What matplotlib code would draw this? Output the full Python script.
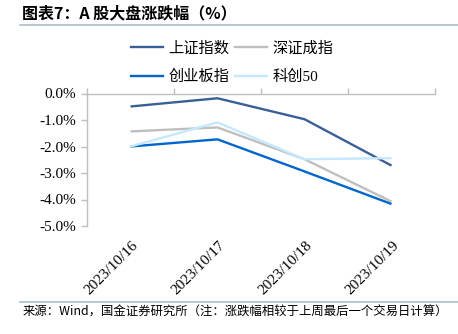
import matplotlib
matplotlib.use("Agg")
import matplotlib.pyplot as plt
from matplotlib.lines import Line2D
import numpy as np

dates = ["2023/10/16", "2023/10/17", "2023/10/18", "2023/10/19"]
series_names = ["上证指数", "深证成指", "创业板指", "科创50"]
sh = [-0.49, -0.18, -0.97, -2.72]
sz = [-1.43, -1.28, -2.48, -4.08]
cyb = [-2.00, -1.73, -2.94, -4.17]
kc50 = [-2.00, -1.09, -2.48, -2.44]
yticks = [0.0, -1.0, -2.0, -3.0, -4.0, -5.0]

colors = ["#3A5F96", "#BFBFBF", "#0066CC", "#C5E8FF"]
W, H = 458, 334
fig = plt.figure(figsize=(W / 100, H / 100), dpi=100)
ax = fig.add_axes([87 / W, 1 - 226 / H, (435 - 87) / W, (226 - 93.5) / H])

x = np.arange(len(dates))
for vals, name, c in zip([sh, sz, cyb, kc50], series_names, colors):
    ax.plot(x, vals, color=c, lw=1.7, label=name, solid_capstyle="butt")

ax.set_xlim(-0.5, len(dates) - 0.5)
ax.set_ylim(-5, 0)
ax.set_yticks(yticks)
ax.set_yticklabels([f"{v:.1f}%" for v in yticks], family="Liberation Serif", fontsize=11)
ax.tick_params(axis="y", direction="out", length=4, color="#BFBFBF", width=1, pad=4)

for s in ["right", "bottom"]:
    ax.spines[s].set_visible(False)
ax.spines["left"].set_color("#BFBFBF")
ax.spines["left"].set_linewidth(1)
ax.spines["top"].set_color("#BFBFBF")
ax.spines["top"].set_linewidth(1)

ax.set_xticks(x)
ax.set_xticklabels([])
ax.tick_params(axis="x", bottom=False, top=False)
ax.set_xticks(np.arange(-0.5, len(dates)), minor=True)
ax.tick_params(axis="x", which="minor", top=True, bottom=False, direction="out",
               length=4, color="#BFBFBF", width=1)

for xi, d in zip(x, dates):
    ax.annotate(d, xy=(xi, -5), xycoords="data", xytext=(1, -9), textcoords="offset points",
                rotation=45, ha="right", va="top", rotation_mode="anchor",
                family="Liberation Serif", fontsize=11, annotation_clip=False)

# row-major legend order
order = [0, 2, 1, 3]
handles = [Line2D([0], [0], color=colors[i], lw=1.7) for i in order]
labels = [series_names[i] for i in order]
fig.legend(handles, labels, loc="upper left", bbox_to_anchor=(131 / W, 1 - 41 / H),
           ncol=2, frameon=False, prop={"family": ["Liberation Serif", "Noto Sans CJK SC"], "size": 11},
           handlelength=2.1, handletextpad=0.35, columnspacing=0.35, labelspacing=0.95,
           borderpad=0, borderaxespad=0)

fig.text(22 / W, 1 - 13 / H, "图表7：A 股大盘涨跌幅（%）", family=["Noto Sans CJK SC"],
         fontweight="bold", fontsize=11.5, va="center", ha="left", style="italic")
fig.add_artist(Line2D([20 / W, 1], [1 - 25 / H, 1 - 25 / H], color="#A9BCD0", lw=1.2))
fig.add_artist(Line2D([20 / W, 1], [1 - 302 / H, 1 - 302 / H], color="#A9BCD0", lw=1.2))
fig.text(23 / W, 1 - 312 / H, "来源：Wind，国金证券研究所（注：涨跌幅相较于上周最后一个交易日计算）",
         family=["Noto Sans CJK SC"], fontsize=8.9, va="center", ha="left")

fig.savefig("out.png", dpi=100)
